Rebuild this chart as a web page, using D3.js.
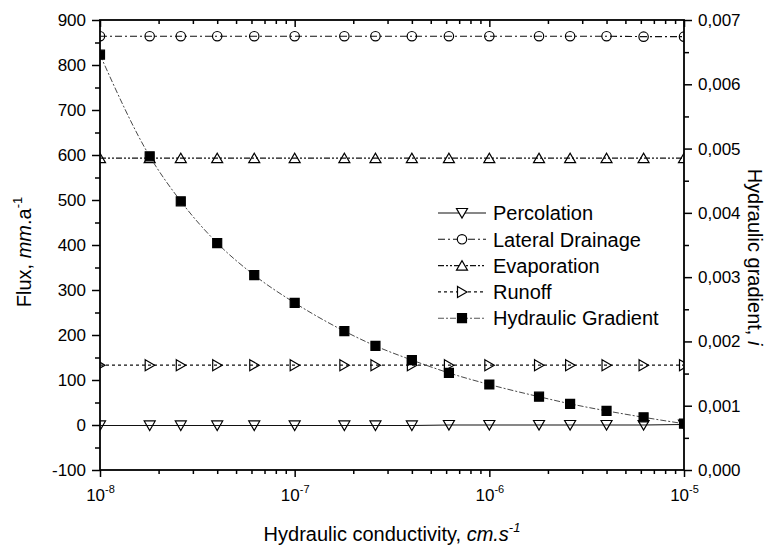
<!DOCTYPE html>
<html>
<head>
<meta charset="utf-8">
<script src="https://cdn.jsdelivr.net/npm/d3@7"></script>
<style>
  body { margin: 0; background: #fff; }
  svg { font-family: "Liberation Sans", Arial, sans-serif; }
  .axis path, .axis line { stroke: #000; }
  .axis text { fill: #000; }
</style>
</head>
<body>
<div id="chart"></div>
<script>
// hydraulic conductivity (cm/s) at which each run was made
let conductivity = [1e-8, 1.8e-8, 2.6e-8, 4e-8, 6.2e-8, 1e-7, 1.8e-7, 2.6e-7, 4e-7, 6.2e-7,
                    1e-6, 1.8e-6, 2.6e-6, 4e-6, 6.2e-6, 1e-5];
// fluxes, mm/a
let percolation = [-1, -1, -1, -1, -1, -1, -1, -1, -1, 0, 0, 0, 0, 0, 0, 1];
let lateralDrainage = [864, 864, 864, 864, 864, 864, 864, 864, 864, 864, 864, 864, 864, 864, 863, 863];
let evaporation = [593, 593, 593, 593, 593, 593, 593, 593, 593, 593, 593, 593, 593, 593, 593, 593];
let runoff = [133, 133, 133, 133, 133, 133, 133, 133, 133, 133, 133, 133, 133, 133, 133, 133];
// hydraulic gradient (right axis)
let hydraulicGradient = [0.00646, 0.00488, 0.00418, 0.00353, 0.00303, 0.00260, 0.00216, 0.00193,
                         0.00171, 0.00151, 0.00133, 0.00114, 0.00103, 0.00092, 0.00082, 0.00072];

let xMajor = [1e-8, 1e-7, 1e-6, 1e-5];
let fluxTicks = [-100, 0, 100, 200, 300, 400, 500, 600, 700, 800, 900];
let gradTicks = [0, 0.001, 0.002, 0.003, 0.004, 0.005, 0.006, 0.007];

let width = 773, height = 545;
let margin = { "top": 20, "bottom": 75, "right": 89, "left": 100 };

let svg = d3.select('#chart').append('svg').attr('width', width).attr('height', height);

let xScale = d3.scaleLog()
    .domain([1e-8, 1e-5])
    .range([margin.left, width - margin.right]);
let yScale = d3.scaleLinear()
    .domain([-100, 900])
    .range([height - margin.bottom, margin.top]);
let y2Scale = d3.scaleLinear()
    .domain([0, 0.007])
    .range([height - margin.bottom, margin.top]);

// minor tick positions
let xMinor = [];
xMajor.slice(0, 3).forEach(function (d) {
    for (let k = 2; k <= 9; k++) xMinor.push(d * k);
});
let fluxMinor = d3.range(-50, 900, 100);
let gradMinor = d3.range(0.0005, 0.007, 0.001);

function styleAxis(g) {
    g.attr('class', 'axis');
    g.select('.domain').remove();
    g.selectAll('line').attr('stroke-width', 1.5);
    g.selectAll('text').style('font-size', '17px');
}

// bottom axis
let bottomAxis = svg.append('g')
    .attr('transform', 'translate(0,' + (height - margin.bottom) + ')');
bottomAxis.append('g').call(d3.axisBottom(xScale).tickValues(xMinor).tickSize(4).tickFormat('')).call(styleAxis);
let bottomMajor = bottomAxis.append('g')
    .call(d3.axisBottom(xScale).tickValues(xMajor).tickSize(7).tickFormat(''))
    .call(styleAxis);
bottomMajor.selectAll('.tick text').remove();
bottomMajor.selectAll('.tick').append('text')
    .attr('y', 31)
    .attr('text-anchor', 'middle')
    .attr('fill', '#000')
    .style('font-size', '17px')
    .each(function (d) {
        let t = d3.select(this);
        t.append('tspan').text('10');
        t.append('tspan').attr('dy', -8).style('font-size', '11px').text(Math.round(Math.log10(d)));
    });

// top axis (ticks inside)
let topAxis = svg.append('g').attr('transform', 'translate(0,' + margin.top + ')');
topAxis.append('g').call(d3.axisTop(xScale).tickValues(xMinor).tickSize(-4).tickFormat('')).call(styleAxis);
topAxis.append('g').call(d3.axisTop(xScale).tickValues(xMajor).tickSize(-7).tickFormat('')).call(styleAxis);

// left axis
let leftAxis = svg.append('g').attr('transform', 'translate(' + margin.left + ',0)');
leftAxis.append('g').call(d3.axisLeft(yScale).tickValues(fluxMinor).tickSize(5).tickFormat('')).call(styleAxis);
leftAxis.append('g').call(d3.axisLeft(yScale).tickValues(fluxTicks).tickSize(8).tickPadding(6)
    .tickFormat(function (d) { return d; })).call(styleAxis);

// right axis
let rightAxis = svg.append('g').attr('transform', 'translate(' + (width - margin.right) + ',0)');
rightAxis.append('g').call(d3.axisRight(y2Scale).tickValues(gradMinor).tickSize(5).tickFormat('')).call(styleAxis);
rightAxis.append('g').call(d3.axisRight(y2Scale).tickValues(gradTicks).tickSize(8).tickPadding(6)
    .tickFormat(function (d) { return d3.format('.3f')(d).replace('.', ','); })).call(styleAxis);

// frame
svg.append('rect')
    .attr('x', margin.left)
    .attr('y', margin.top)
    .attr('width', width - margin.left - margin.right)
    .attr('height', height - margin.top - margin.bottom)
    .attr('fill', 'none')
    .attr('stroke', '#000')
    .attr('stroke-width', 1.8);

// axis titles
let xTitle = svg.append('text')
    .attr('x', (margin.left + width - margin.right) / 2)
    .attr('y', 541)
    .attr('text-anchor', 'middle')
    .style('font-size', '20px');
xTitle.append('tspan').text('Hydraulic conductivity, ');
xTitle.append('tspan').style('font-style', 'italic').text('cm.s');
xTitle.append('tspan').style('font-style', 'italic').style('font-size', '13px').attr('dy', -9).text('-1');

let yTitle = svg.append('text')
    .attr('transform', 'translate(31,252) rotate(-90)')
    .attr('text-anchor', 'middle')
    .style('font-size', '20px');
yTitle.append('tspan').text('Flux, ');
yTitle.append('tspan').style('font-style', 'italic').text('mm');
yTitle.append('tspan').text('.a');
yTitle.append('tspan').style('font-size', '13px').attr('dy', -9).text('-1');

let y2Title = svg.append('text')
    .attr('transform', 'translate(748,257) rotate(90)')
    .attr('text-anchor', 'middle')
    .style('font-size', '20px');
y2Title.append('tspan').text('Hydraulic gradient, ');
y2Title.append('tspan').style('font-style', 'italic').text('i');

// marker shapes
let shapes = {
    'down': 'M-5.5,-4.5L5.5,-4.5L0,5Z',
    'up': 'M-5.5,4.5L5.5,4.5L0,-5Z',
    'right': 'M-4.5,-5.5L5,0L-4.5,5.5Z',
    'circle': 'M-4.7,0A4.7,4.7 0 1,0 4.7,0A4.7,4.7 0 1,0 -4.7,0Z',
    'square': 'M-4.5,-4.5L4.5,-4.5L4.5,4.5L-4.5,4.5Z'
};

let series = [
    { name: 'Percolation', values: percolation, scale: yScale, dash: null, shape: 'down', fill: 'none', curve: d3.curveLinear },
    { name: 'Lateral Drainage', values: lateralDrainage, scale: yScale, dash: '7,3,2,3', shape: 'circle', fill: 'none', curve: d3.curveLinear },
    { name: 'Evaporation', values: evaporation, scale: yScale, dash: '6,2,2,2,2,2', shape: 'up', fill: 'none', curve: d3.curveLinear },
    { name: 'Runoff', values: runoff, scale: yScale, dash: '3,3', shape: 'right', fill: 'none', curve: d3.curveLinear },
    { name: 'Hydraulic Gradient', values: hydraulicGradient, scale: y2Scale, dash: '6,2,2,2', shape: 'square', fill: '#000', curve: d3.curveMonotoneX }
];

svg.append('clipPath').attr('id', 'plotclip')
    .append('rect')
    .attr('x', margin.left)
    .attr('y', margin.top)
    .attr('width', width - margin.left - margin.right)
    .attr('height', height - margin.top - margin.bottom);

let plot = svg.append('g').attr('clip-path', 'url(#plotclip)');

series.forEach(function (s) {
    let pts = conductivity.map(function (c, i) { return [xScale(c), s.scale(s.values[i])]; });
    let line = d3.line().curve(s.curve);
    plot.append('path')
        .attr('d', line(pts))
        .attr('fill', 'none')
        .attr('stroke', s.shape === 'square' ? '#333' : '#111')
        .attr('stroke-width', s.shape === 'square' ? 0.9 : 1.1)
        .attr('stroke-dasharray', s.dash);
    plot.append('g')
        .selectAll('path')
        .data(pts)
        .enter()
        .append('path')
        .attr('transform', function (d) { return 'translate(' + d[0] + ',' + d[1] + ')'; })
        .attr('d', shapes[s.shape])
        .attr('fill', s.fill)
        .attr('stroke', '#000')
        .attr('stroke-width', 1.2);
});

// legend
let legend = svg.append('g').attr('transform', 'translate(438,213)');
series.forEach(function (s, i) {
    let row = legend.append('g').attr('transform', 'translate(0,' + (i * 26.3) + ')');
    row.append('line')
        .attr('x1', 0).attr('x2', 48)
        .attr('stroke', s.shape === 'square' ? '#555' : '#111')
        .attr('stroke-width', 1.1)
        .attr('stroke-dasharray', s.dash);
    row.append('path')
        .attr('transform', 'translate(24,0)')
        .attr('d', shapes[s.shape])
        .attr('fill', s.fill === 'none' ? '#fff' : s.fill)
        .attr('stroke', '#000')
        .attr('stroke-width', 1.2);
    row.append('text')
        .attr('x', 55)
        .attr('dy', '0.36em')
        .style('font-size', '20px')
        .text(s.name);
});
</script>
</body>
</html>
